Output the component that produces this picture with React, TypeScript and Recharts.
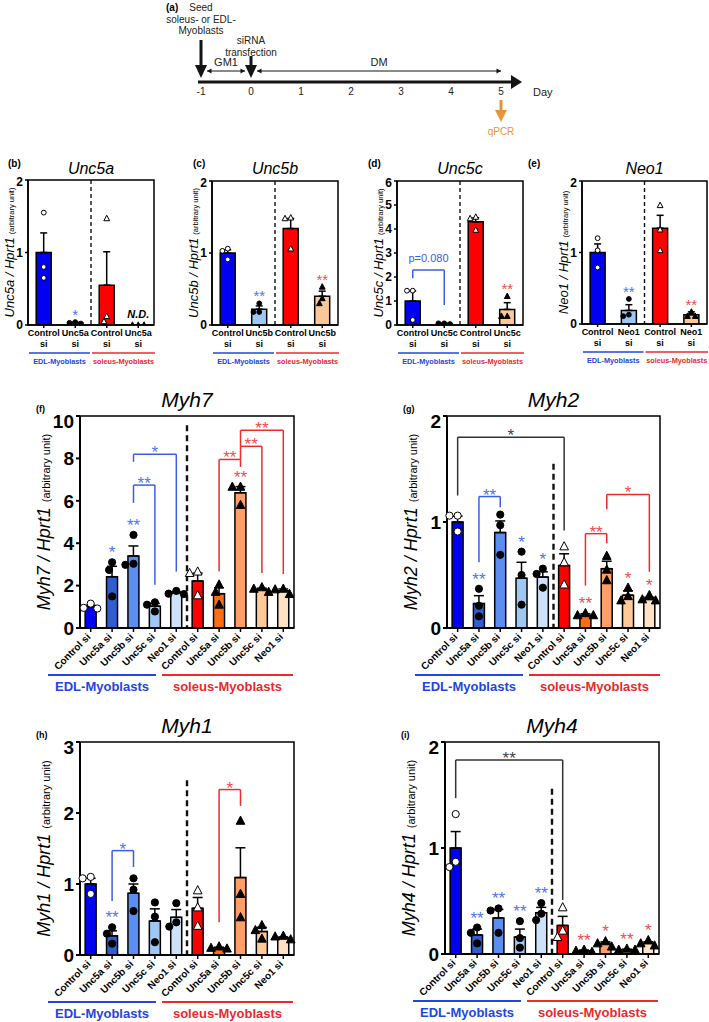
import React from 'react';
import {
  ComposedChart,
  Bar,
  Cell,
  ErrorBar,
  Scatter,
  XAxis,
  YAxis,
  ReferenceLine,
  ReferenceArea,
  ReferenceDot,
} from 'recharts';

const FONT = '"Liberation Sans", Arial, Helvetica, sans-serif';

// ---------- colours ----------
const GROUP_BLUE = '#2445e0';
const GROUP_RED = '#ea2a2f';
const LINE_BLUE = '#3b5ee6';
const LINE_RED = '#ef2b2b';
const LINE_BLACK = '#333333';
const STAR_BLUE = '#5274ee';
const STAR_RED = '#ef4d52';
const STAR_BLACK = '#444444';
const EDL_SHADES = ['#0000f2', '#2f5fcf', '#5b8ef0', '#9fc7f4', '#cde1f8'];
const SOL_SHADES = ['#ff0000', '#ff6c12', '#ff9f67', '#ffc998', '#ffe2c4'];
const SMALL_FILLS = ['#0000f2', '#9fc7f4', '#ff0000', '#fbc998'];
const QPCR_ORANGE = '#e8953a';

// ---------- (a) experimental timeline ----------
const DAYS = [-1, 0, 1, 2, 3, 4, 5];
const EVENTS = [
  { day: -1, lines: ['Seed', 'soleus- or EDL-', 'Myoblasts'], arrowTop: 42, textTop: 71 },
  { day: 0, lines: ['siRNA', 'transfection'], arrowTop: 26, textTop: 38 },
];
const PHASES = [
  { label: 'GM1', from: -0.88, to: -0.12 },
  { label: 'DM', from: 0.12, to: 5.0 },
];
const READOUT = { day: 5, label: 'qPCR' };

// ---------- (b)-(e) siRNA knockdown efficiency ----------
const CATS_UNC5A = ['EDL|Control si', 'EDL|Unc5a si', 'SOL|Control si', 'SOL|Unc5a si'];
const UNC5A_MEAN = [1.0, 0.03, 0.55, 0];
const UNC5A_SEM = [0.27, 0.01, 0.46, 0];
const UNC5A_PTS = [[1.55, 0.8, 0.65], [0.04, 0.03, 0.02], [1.47, 0.12, 0.05], [0, 0, 0]];
const UNC5A_SIG = ['', '*', '', 'N.D.'];

const CATS_UNC5B = ['EDL|Control si', 'EDL|Unc5b si', 'SOL|Control si', 'SOL|Unc5b si'];
const UNC5B_MEAN = [1.0, 0.22, 1.34, 0.4];
const UNC5B_SEM = [0.045, 0.045, 0.14, 0.07];
const UNC5B_PTS = [[1.06, 1.03, 0.91], [0.3, 0.18, 0.18], [1.49, 1.48, 1.06], [0.53, 0.37, 0.3]];
const UNC5B_SIG = ['', '**', '', '**'];

const CATS_UNC5C = ['EDL|Control si', 'EDL|Unc5c si', 'SOL|Control si', 'SOL|Unc5c si'];
const UNC5C_MEAN = [1.0, 0.06, 4.3, 0.65];
const UNC5C_SEM = [0.42, 0.015, 0.17, 0.28];
const UNC5C_PTS = [[1.43, 1.43, 0.21], [0.04, 0.07, 0.07], [4.5, 4.44, 3.96], [1.2, 0.37, 0.37]];
const UNC5C_SIG = ['', '', '', '**'];

const CATS_NEO1 = ['EDL|Control si', 'EDL|Neo1 si', 'SOL|Control si', 'SOL|Neo1 si'];
const NEO1_MEAN = [1.0, 0.19, 1.34, 0.13];
const NEO1_SEM = [0.12, 0.08, 0.18, 0.04];
const NEO1_PTS = [[1.2, 1.03, 0.79], [0.35, 0.11, 0.13], [1.66, 1.32, 1.03], [0.17, 0.11, 0.11]];
const NEO1_SIG = ['', '**', '', '**'];

// ---------- (f)-(i) myosin heavy chain isoforms ----------
const CATS_MYH = [
  'EDL|Control si', 'EDL|Unc5a si', 'EDL|Unc5b si', 'EDL|Unc5c si', 'EDL|Neo1 si',
  'SOL|Control si', 'SOL|Unc5a si', 'SOL|Unc5b si', 'SOL|Unc5c si', 'SOL|Neo1 si',
];

const MYH7_MEAN = [1.0, 2.42, 3.4, 1.03, 1.65, 2.22, 1.62, 6.38, 1.82, 1.76];
const MYH7_SEM = [0.07, 0.49, 0.47, 0.13, 0.05, 0.37, 0.28, 0.29, 0.06, 0.08];
const MYH7_PTS = [
  [1.15, 0.95, 0.92], [3.1, 2.74, 1.49], [4.39, 2.98, 3.03], [1.21, 1.1, 0.78], [1.75, 1.62, 1.6],
  [2.66, 2.59, 1.54], [2.05, 1.7, 1.1], [6.66, 6.66, 5.8], [1.92, 1.85, 1.7], [1.85, 1.82, 1.6],
];
const MYH7_SIG = ['', '*', '**', '', '', '', '', '**', '', ''];

const MYH2_MEAN = [1.0, 0.23, 0.9, 0.47, 0.48, 0.59, 0.12, 0.56, 0.31, 0.27];
const MYH2_SEM = [0.055, 0.075, 0.11, 0.15, 0.05, 0.11, 0.015, 0.07, 0.04, 0.02];
const MYH2_PTS = [
  [1.06, 1.06, 0.91], [0.37, 0.21, 0.11], [1.07, 0.97, 0.69], [0.72, 0.5, 0.22], [0.56, 0.51, 0.38],
  [0.77, 0.62, 0.41], [0.14, 0.12, 0.12], [0.68, 0.55, 0.45], [0.38, 0.3, 0.26], [0.31, 0.27, 0.26],
];
const MYH2_SIG = ['', '**', '', '*', '*', '', '**', '', '*', '*'];

const MYH1_MEAN = [1.0, 0.27, 0.87, 0.48, 0.53, 0.66, 0.1, 1.09, 0.33, 0.24];
const MYH1_SEM = [0.08, 0.07, 0.13, 0.17, 0.11, 0.15, 0.01, 0.42, 0.06, 0.015];
const MYH1_PTS = [
  [1.1, 1.08, 0.86], [0.39, 0.3, 0.16], [1.08, 0.92, 0.62], [0.74, 0.54, 0.18], [0.73, 0.46, 0.4],
  [0.91, 0.67, 0.41], [0.12, 0.1, 0.09], [1.89, 0.86, 0.53], [0.42, 0.35, 0.23], [0.27, 0.26, 0.22],
];
const MYH1_SIG = ['', '**', '', '', '', '', '', '', '', ''];

const MYH4_MEAN = [1.0, 0.18, 0.34, 0.16, 0.39, 0.27, 0.03, 0.1, 0.04, 0.1];
const MYH4_SEM = [0.155, 0.055, 0.08, 0.075, 0.05, 0.085, 0.008, 0.015, 0.006, 0.015];
const MYH4_PTS = [
  [1.32, 0.87, 0.82], [0.25, 0.2, 0.1], [0.43, 0.41, 0.2], [0.31, 0.15, 0.06], [0.48, 0.38, 0.32],
  [0.44, 0.22, 0.16], [0.04, 0.03, 0.02], [0.12, 0.1, 0.07], [0.05, 0.04, 0.04], [0.13, 0.1, 0.08],
];
const MYH4_SIG = ['', '**', '**', '**', '**', '', '**', '*', '**', '*'];

// comparison brackets: category indices, bracket level, leg ends (all in axis units)
type Tone = 'edl' | 'sol' | 'all';
interface Bracket { a: number; b: number; y: number; ya: number; yb: number; text: string; tone: Tone }

const UNC5C_BRACKETS: Bracket[] = [{ a: 0, b: 1, y: 2.29, ya: 1.95, yb: 0.83, text: 'p=0.080', tone: 'edl' }];
const MYH7_BRACKETS: Bracket[] = [
  { a: 2, b: 3, y: 6.74, ya: 5.9, yb: 2.04, text: '**', tone: 'edl' },
  { a: 2, b: 4, y: 8.2, ya: 7.84, yb: 2.66, text: '*', tone: 'edl' },
  { a: 6, b: 7, y: 7.95, ya: 2.66, yb: 7.6, text: '**', tone: 'sol' },
  { a: 7, b: 8, y: 8.57, ya: 7.95, yb: 2.59, text: '**', tone: 'sol' },
  { a: 7, b: 9, y: 9.33, ya: 8.57, yb: 2.55, text: '**', tone: 'sol' },
];
const MYH2_BRACKETS: Bracket[] = [
  { a: 0, b: 5, y: 1.8, ya: 1.25, yb: 0.92, text: '*', tone: 'all' },
  { a: 1, b: 2, y: 1.24, ya: 0.62, yb: 1.14, text: '**', tone: 'edl' },
  { a: 6, b: 7, y: 0.89, ya: 0.4, yb: 0.8, text: '**', tone: 'sol' },
  { a: 7, b: 9, y: 1.26, ya: 1.12, yb: 0.53, text: '*', tone: 'sol' },
];
const MYH1_BRACKETS: Bracket[] = [
  { a: 1, b: 2, y: 1.47, ya: 0.76, yb: 1.24, text: '*', tone: 'edl' },
  { a: 6, b: 7, y: 2.33, ya: 0.46, yb: 2.1, text: '*', tone: 'sol' },
];
const MYH4_BRACKETS: Bracket[] = [{ a: 0, b: 5, y: 1.83, ya: 1.47, yb: 0.51, text: '**', tone: 'all' }];

// ---------- layout ----------
interface Frame { left: number; top: number; width: number; plotLeft: number; plotTop: number; plotRight: number; plotBottom: number }

const FRAME_B: Frame = { left: 0, top: 174, width: 160, plotLeft: 28, plotTop: 180, plotRight: 154, plotBottom: 325 };
const FRAME_C: Frame = { left: 184, top: 175, width: 160, plotLeft: 212, plotTop: 181, plotRight: 338, plotBottom: 325 };
const FRAME_D: Frame = { left: 369, top: 175, width: 160, plotLeft: 397, plotTop: 181, plotRight: 523, plotBottom: 325 };
const FRAME_E: Frame = { left: 554, top: 175, width: 155, plotLeft: 582, plotTop: 181, plotRight: 707, plotBottom: 324 };
const FRAME_F: Frame = { left: 0, top: 410, width: 300, plotLeft: 80, plotTop: 416, plotRight: 294, plotBottom: 628 };
const FRAME_G: Frame = { left: 362, top: 410, width: 306, plotLeft: 447, plotTop: 416, plotRight: 660, plotBottom: 628 };
const FRAME_H: Frame = { left: 0, top: 736, width: 300, plotLeft: 80, plotTop: 742, plotRight: 294, plotBottom: 955 };
const FRAME_I: Frame = { left: 362, top: 736, width: 306, plotLeft: 445, plotTop: 742, plotRight: 659, plotBottom: 954 };

const lineTone = (t: Tone) => (t === 'edl' ? LINE_BLUE : t === 'sol' ? LINE_RED : LINE_BLACK);
const starTone = (t: Tone) => (t === 'edl' ? STAR_BLUE : t === 'sol' ? STAR_RED : STAR_BLACK);

// spread overlapping replicate markers sideways (simple beeswarm)
function swarm(vals: number[], ppu: number, d: number): number[] {
  const order = vals.map((_, i) => i).sort((i, j) => vals[j] - vals[i]);
  const placed: { x: number; y: number }[] = [];
  const out = vals.map(() => 0);
  for (const i of order) {
    const y = vals[i] * ppu;
    const cands = [0];
    for (const p of placed) {
      const dy = Math.abs(p.y - y);
      if (dy < d) {
        const dx = Math.sqrt(d * d - dy * dy);
        cands.push(p.x - dx, p.x + dx);
      }
    }
    cands.sort((a, b) => Math.abs(a) - Math.abs(b) || a - b);
    const ok = cands.find((c) => placed.every((p) => Math.hypot(p.x - c, p.y - y) >= d - 0.01));
    const x = ok === undefined ? 0 : ok;
    placed.push({ x, y });
    out[i] = x;
  }
  return out;
}

const catLabel = (v: unknown) => String(v).split('|')[1] || '';

const SlantTick = (p: any) => {
  const { x, y, payload } = p;
  const ax = x - 2;
  const ay = y + 1;
  return (
    <text
      x={ax}
      y={ay}
      dy="0.35em"
      transform={`rotate(-45 ${ax} ${ay})`}
      textAnchor="end"
      fontSize={10}
      fontWeight={700}
      fontFamily={FONT}
      fill="#000"
    >
      {catLabel(payload.value)}
    </text>
  );
};

const StackTick = (p: any) => {
  const { x, y, payload } = p;
  const [a, b] = catLabel(payload.value).split(' ');
  return (
    <text x={x} y={y} textAnchor="middle" fontSize={9} fontWeight={700} fontFamily={FONT} fill="#000">
      <tspan x={x} dy="0.71em">{a}</tspan>
      <tspan x={x} dy="1.15em">{b}</tspan>
    </text>
  );
};

const YTitle = (p: any) => {
  const { viewBox, gene, big } = p;
  const vb = viewBox || { x: 0, y: 0, width: 0, height: 0 };
  const cx = vb.x + vb.width - (big ? 30 : 14);
  const cy = vb.y + vb.height / 2;
  return (
    <text transform={`translate(${cx},${cy}) rotate(-90)`} textAnchor="middle" fontFamily={FONT} fill="#000">
      <tspan fontStyle="italic" fontSize={big ? 18 : 13}>{`${gene} / Hprt1`}</tspan>
      <tspan fontSize={big ? 11 : 7.5} dx={big ? 5 : 3}>(arbitrary unit)</tspan>
    </text>
  );
};

const BracketText = (p: any) => {
  const { viewBox, text, tone, big } = p;
  const vb = viewBox || { x: 0, y: 0, width: 0, height: 0 };
  const x = vb.x + vb.width / 2;
  const isP = text.startsWith('p');
  return (
    <text
      x={x}
      y={vb.y + (isP ? -8 : 4)}
      textAnchor="middle"
      fontSize={isP ? 11 : big ? 17 : 15}
      fill={isP ? LINE_BLUE : starTone(tone)}
      fontFamily={FONT}
    >
      {text}
    </text>
  );
};

const makeDot = (k: number, r: number) => (p: any) => {
  const { cx, cy, payload } = p;
  if (cx == null || cy == null || !payload) return <g />;
  const x = cx + payload[`o${k}`];
  const fill = payload.ctrl ? '#ffffff' : '#000000';
  if (payload.grp === 'EDL') {
    return <circle cx={x} cy={cy} r={r} fill={fill} stroke="#000" strokeWidth={1} />;
  }
  const h = r * 1.2;
  return (
    <polygon
      points={`${x},${cy - h * 1.1} ${x - h},${cy + h * 0.8} ${x + h},${cy + h * 0.8}`}
      fill={fill}
      stroke="#000"
      strokeWidth={1}
    />
  );
};

const makeSig = (big: boolean) => (p: any) => {
  const { cx, cy, payload } = p;
  if (cx == null || cy == null || !payload || !payload.sig) return <g />;
  if (payload.sig === 'N.D.') {
    return (
      <text x={cx} y={cy - 7} textAnchor="middle" fontSize={11} fontWeight={700} fontStyle="italic" fontFamily={FONT} fill="#000">
        N.D.
      </text>
    );
  }
  return (
    <text
      x={cx}
      y={cy + (big ? -4 : -2)}
      textAnchor="middle"
      fontSize={big ? 17 : 15}
      fill={payload.grp === 'EDL' ? STAR_BLUE : STAR_RED}
      fontFamily={FONT}
    >
      {payload.sig}
    </text>
  );
};

interface PanelProps {
  frame: Frame;
  cats: string[];
  means: number[];
  sems: number[];
  pts: number[][];
  sig: string[];
  brackets: Bracket[];
  fills: string[];
  yMax: number;
  yTicks: number[];
  divTop: number;
  gene: string;
  big: boolean;
}

function BarPanel({ frame, cats, means, sems, pts, sig, brackets, fills, yMax, yTicks, divTop, gene, big }: PanelProps) {
  const xAxisH = big ? 47 : 26;
  const height = frame.plotBottom + xAxisH - frame.top;
  const r = big ? 3.6 : 2.4;
  const ppu = (frame.plotBottom - frame.plotTop) / yMax;
  const rows = cats.map((key, i) => {
    const offs = swarm(pts[i], ppu, 2 * r + 1);
    return {
      key,
      mean: means[i],
      err: [0, sems[i]],
      p0: pts[i][0],
      p1: pts[i][1],
      p2: pts[i][2],
      o0: offs[0],
      o1: offs[1],
      o2: offs[2],
      top: Math.max(means[i] + sems[i], ...pts[i]),
      sig: sig[i],
      grp: key.split('|')[0],
      ctrl: key.includes('Control'),
    };
  });
  const firstSol = cats.findIndex((c) => c.startsWith('SOL'));
  const axisW = big ? 2 : 1.5;
  const divider = (s: any) => (
    <line
      x1={s.x}
      x2={s.x}
      y1={s.y}
      y2={s.y + s.height}
      stroke="#111"
      strokeWidth={big ? 2.4 : 1.4}
      strokeDasharray={big ? '6 4' : '4 3'}
    />
  );
  return (
    <div style={{ position: 'absolute', left: frame.left, top: frame.top }}>
      <ComposedChart
        width={frame.width}
        height={height}
        data={rows}
        margin={{ top: frame.plotTop - frame.top, right: frame.left + frame.width - frame.plotRight, bottom: 0, left: 0 }}
        barCategoryGap={big ? '24%' : '26%'}
      >
        <XAxis
          dataKey="key"
          type="category"
          interval={0}
          height={xAxisH}
          tick={big ? <SlantTick /> : <StackTick />}
          tickSize={big ? 4 : 3}
          tickMargin={2}
          axisLine={{ stroke: '#000', strokeWidth: axisW }}
          tickLine={{ stroke: '#000', strokeWidth: 1.5 }}
        />
        <YAxis
          type="number"
          domain={[0, yMax]}
          ticks={yTicks}
          allowDataOverflow
          width={frame.plotLeft - frame.left}
          tick={{ fontSize: big ? 19 : 12, fontWeight: 700, fill: '#000', fontFamily: FONT }}
          tickSize={big ? 4 : 3}
          tickMargin={2}
          axisLine={{ stroke: '#000', strokeWidth: axisW }}
          tickLine={{ stroke: '#000', strokeWidth: axisW }}
          label={<YTitle gene={gene} big={big} />}
        />
        <ReferenceArea y1={0} y2={yMax} fill="none" stroke="#000" strokeWidth={1.5} ifOverflow="visible" />
        <ReferenceArea
          x1={cats[firstSol]}
          x2={cats[firstSol]}
          y1={0}
          y2={divTop}
          ifOverflow="visible"
          shape={divider}
        />
        <Bar dataKey="mean" stroke="#000" strokeWidth={1.5} isAnimationActive={false}>
          {rows.map((row, i) => (
            <Cell key={row.key} fill={fills[i]} />
          ))}
          <ErrorBar dataKey="err" width={big ? 5 : 3.5} strokeWidth={1.5} stroke="#000" direction="y" />
        </Bar>
        {brackets.map((bk, j) => {
          const A = cats[bk.a];
          const B = cats[bk.b];
          const col = lineTone(bk.tone);
          return (
            <React.Fragment key={`bk${j}`}>
              <ReferenceLine
                segment={[{ x: A, y: bk.y }, { x: B, y: bk.y }]}
                stroke={col}
                strokeWidth={1.5}
                ifOverflow="visible"
                label={<BracketText text={bk.text} tone={bk.tone} big={big} />}
              />
              <ReferenceLine segment={[{ x: A, y: bk.ya }, { x: A, y: bk.y }]} stroke={col} strokeWidth={1.5} ifOverflow="visible" />
              <ReferenceLine segment={[{ x: B, y: bk.yb }, { x: B, y: bk.y }]} stroke={col} strokeWidth={1.5} ifOverflow="visible" />
            </React.Fragment>
          );
        })}
        <Scatter dataKey="p0" shape={makeDot(0, r)} isAnimationActive={false} />
        <Scatter dataKey="p1" shape={makeDot(1, r)} isAnimationActive={false} />
        <Scatter dataKey="p2" shape={makeDot(2, r)} isAnimationActive={false} />
        <Scatter dataKey="top" shape={makeSig(big)} isAnimationActive={false} />
      </ComposedChart>
    </div>
  );
}

// ---------- timeline ----------
const downHead = (color: string) => (s: any) => (
  <polygon points={`${s.x},${s.y} ${s.x + s.width},${s.y} ${s.x + s.width / 2},${s.y + s.height}`} fill={color} />
);
const rightHead = (color: string) => (s: any) => (
  <polygon points={`${s.x},${s.y} ${s.x + s.width},${s.y + s.height / 2} ${s.x},${s.y + s.height}`} fill={color} />
);
const leftHead = (color: string) => (s: any) => (
  <polygon points={`${s.x + s.width},${s.y} ${s.x},${s.y + s.height / 2} ${s.x + s.width},${s.y + s.height}`} fill={color} />
);
const textAt = (lines: string[], size: number, color: string, lh: number) => (s: any) => (
  <text x={s.cx} y={s.cy} textAnchor="middle" fontSize={size} fill={color} fontFamily={FONT}>
    {lines.map((l, i) => (
      <tspan key={l} x={s.cx} dy={i === 0 ? 0 : lh}>
        {l}
      </tspan>
    ))}
  </text>
);

function Timeline() {
  const data = DAYS.map((d) => ({ day: d }));
  const ink = '#141414';
  return (
    <div style={{ position: 'absolute', left: 150, top: 0 }}>
      <ComposedChart width={420} height={142} data={data} margin={{ top: 0, right: 48, bottom: 40, left: 48 }}>
        <XAxis
          dataKey="day"
          type="number"
          domain={[-1.06, 5.42]}
          allowDataOverflow
          ticks={DAYS}
          axisLine={false}
          tickLine={false}
          tickSize={6}
          tickMargin={0}
          height={20}
          tick={{ fontSize: 10, fill: '#222', fontFamily: FONT }}
          label={{ value: 'Day', position: 'right', offset: 11, fontSize: 11, fill: '#222', fontFamily: FONT }}
        />
        <YAxis hide type="number" domain={[0, 82]} allowDataOverflow />
        <ReferenceLine segment={[{ x: -1.06, y: 0 }, { x: 5.22, y: 0 }]} stroke={ink} strokeWidth={3} ifOverflow="visible" />
        <ReferenceArea x1={5.2} x2={5.42} y1={-7} y2={7} ifOverflow="visible" shape={rightHead(ink)} />
        {EVENTS.map((ev) => (
          <React.Fragment key={ev.day}>
            <ReferenceLine segment={[{ x: ev.day, y: ev.arrowTop }, { x: ev.day, y: 15 }]} stroke={ink} strokeWidth={3} ifOverflow="visible" />
            <ReferenceArea x1={ev.day - 0.12} x2={ev.day + 0.12} y1={4} y2={17} ifOverflow="visible" shape={downHead(ink)} />
            <ReferenceDot x={ev.day} y={ev.textTop} r={0} ifOverflow="visible" shape={textAt(ev.lines, 10, '#222', 11.5)} />
          </React.Fragment>
        ))}
        {PHASES.map((ph) => (
          <React.Fragment key={ph.label}>
            <ReferenceLine segment={[{ x: ph.from, y: 11 }, { x: ph.to, y: 11 }]} stroke={ink} strokeWidth={1} ifOverflow="visible" />
            <ReferenceArea x1={ph.from} x2={ph.from + 0.09} y1={8.5} y2={13.5} ifOverflow="visible" shape={leftHead(ink)} />
            <ReferenceArea x1={ph.to - 0.09} x2={ph.to} y1={8.5} y2={13.5} ifOverflow="visible" shape={rightHead(ink)} />
            <ReferenceDot x={(ph.from + ph.to) / 2} y={16} r={0} ifOverflow="visible" shape={textAt([ph.label], 11, '#222', 0)} />
          </React.Fragment>
        ))}
        <ReferenceLine
          segment={[{ x: READOUT.day, y: -18 }, { x: READOUT.day, y: -30 }]}
          stroke={QPCR_ORANGE}
          strokeWidth={3}
          ifOverflow="visible"
        />
        <ReferenceArea x1={READOUT.day - 0.12} x2={READOUT.day + 0.12} y1={-40} y2={-28} ifOverflow="visible" shape={downHead(QPCR_ORANGE)} />
        <ReferenceDot x={READOUT.day} y={-53} r={0} ifOverflow="visible" shape={textAt([READOUT.label], 10, QPCR_ORANGE, 0)} />
      </ComposedChart>
    </div>
  );
}

// ---------- titles, panel letters and group labels ----------
function SmallDecor({ frame, letter, letterX, gene }: { frame: Frame; letter: string; letterX: number; gene: string }) {
  const mid = (frame.plotLeft + frame.plotRight) / 2;
  const ly = frame.plotBottom + 28;
  const ty = frame.plotBottom + 38.5;
  return (
    <g fontFamily={FONT}>
      <text x={letterX} y={167} fontSize={10} fontWeight={700} fill="#000">{letter}</text>
      <text x={mid} y={174} fontSize={16} fontStyle="italic" textAnchor="middle" fill="#000">{gene}</text>
      <line x1={frame.plotLeft + 1} x2={mid - 1} y1={ly} y2={ly} stroke={GROUP_BLUE} strokeWidth={1.5} />
      <line x1={mid + 1} x2={frame.plotRight + 1} y1={ly} y2={ly} stroke={GROUP_RED} strokeWidth={1.5} />
      <text x={(frame.plotLeft + mid) / 2} y={ty} fontSize={7.3} fontWeight={700} textAnchor="middle" fill={GROUP_BLUE}>EDL-Myoblasts</text>
      <text x={(mid + frame.plotRight) / 2 + 1} y={ty} fontSize={7.3} fontWeight={700} textAnchor="middle" fill={GROUP_RED}>soleus-Myoblasts</text>
    </g>
  );
}

function BigDecor({ frame, letter, gene }: { frame: Frame; letter: string; gene: string }) {
  const mid = (frame.plotLeft + frame.plotRight) / 2;
  const ly = frame.plotBottom + 47;
  const ty = frame.plotBottom + 62.5;
  const b0 = frame.plotLeft - 32;
  const b1 = frame.plotLeft + 76;
  const r0 = frame.plotLeft + 82;
  const r1 = frame.plotLeft + 213;
  return (
    <g fontFamily={FONT}>
      <text x={frame.plotLeft - 44} y={frame.plotTop - 4} fontSize={9} fontWeight={700} fill="#000">{letter}</text>
      <text x={mid} y={frame.plotTop - 9} fontSize={21} fontStyle="italic" textAnchor="middle" fill="#000">{gene}</text>
      <line x1={b0} x2={b1} y1={ly} y2={ly} stroke={GROUP_BLUE} strokeWidth={2} />
      <line x1={r0} x2={r1} y1={ly} y2={ly} stroke={GROUP_RED} strokeWidth={2} />
      <text x={(b0 + b1) / 2} y={ty} fontSize={13} fontWeight={700} textAnchor="middle" fill={GROUP_BLUE}>EDL-Myoblasts</text>
      <text x={(r0 + r1) / 2} y={ty} fontSize={13} fontWeight={700} textAnchor="middle" fill={GROUP_RED}>soleus-Myoblasts</text>
    </g>
  );
}

export default function App() {
  const bigFills = [...EDL_SHADES, ...SOL_SHADES];
  return (
    <div
      style={{
        position: 'absolute',
        left: 0,
        top: 0,
        width: 709,
        height: 1022,
        background: '#fff',
        overflow: 'hidden',
        fontFamily: FONT,
      }}
    >
      <Timeline />
      <BarPanel frame={FRAME_B} cats={CATS_UNC5A} means={UNC5A_MEAN} sems={UNC5A_SEM} pts={UNC5A_PTS} sig={UNC5A_SIG}
        brackets={[]} fills={SMALL_FILLS} yMax={2} yTicks={[0, 1, 2]} divTop={2} gene="Unc5a" big={false} />
      <BarPanel frame={FRAME_C} cats={CATS_UNC5B} means={UNC5B_MEAN} sems={UNC5B_SEM} pts={UNC5B_PTS} sig={UNC5B_SIG}
        brackets={[]} fills={SMALL_FILLS} yMax={2} yTicks={[0, 1, 2]} divTop={2} gene="Unc5b" big={false} />
      <BarPanel frame={FRAME_D} cats={CATS_UNC5C} means={UNC5C_MEAN} sems={UNC5C_SEM} pts={UNC5C_PTS} sig={UNC5C_SIG}
        brackets={UNC5C_BRACKETS} fills={SMALL_FILLS} yMax={6} yTicks={[0, 1, 2, 3, 4, 5, 6]} divTop={6} gene="Unc5c" big={false} />
      <BarPanel frame={FRAME_E} cats={CATS_NEO1} means={NEO1_MEAN} sems={NEO1_SEM} pts={NEO1_PTS} sig={NEO1_SIG}
        brackets={[]} fills={SMALL_FILLS} yMax={2} yTicks={[0, 1, 2]} divTop={2} gene="Neo1" big={false} />
      <BarPanel frame={FRAME_F} cats={CATS_MYH} means={MYH7_MEAN} sems={MYH7_SEM} pts={MYH7_PTS} sig={MYH7_SIG}
        brackets={MYH7_BRACKETS} fills={bigFills} yMax={10} yTicks={[0, 2, 4, 6, 8, 10]} divTop={9.56} gene="Myh7" big />
      <BarPanel frame={FRAME_G} cats={CATS_MYH} means={MYH2_MEAN} sems={MYH2_SEM} pts={MYH2_PTS} sig={MYH2_SIG}
        brackets={MYH2_BRACKETS} fills={bigFills} yMax={2} yTicks={[0, 1, 2]} divTop={1.55} gene="Myh2" big />
      <BarPanel frame={FRAME_H} cats={CATS_MYH} means={MYH1_MEAN} sems={MYH1_SEM} pts={MYH1_PTS} sig={MYH1_SIG}
        brackets={MYH1_BRACKETS} fills={bigFills} yMax={3} yTicks={[0, 1, 2, 3]} divTop={2.46} gene="Myh1" big />
      <BarPanel frame={FRAME_I} cats={CATS_MYH} means={MYH4_MEAN} sems={MYH4_SEM} pts={MYH4_PTS} sig={MYH4_SIG}
        brackets={MYH4_BRACKETS} fills={bigFills} yMax={2} yTicks={[0, 1, 2]} divTop={1.56} gene="Myh4" big />
      <svg width={709} height={1022} style={{ position: 'absolute', left: 0, top: 0, pointerEvents: 'none' }}>
        <text x={166} y={11} fontSize={10} fontWeight={700} fontFamily={FONT} fill="#000">(a)</text>
        <SmallDecor frame={FRAME_B} letter="(b)" letterX={8} gene="Unc5a" />
        <SmallDecor frame={FRAME_C} letter="(c)" letterX={193} gene="Unc5b" />
        <SmallDecor frame={FRAME_D} letter="(d)" letterX={368} gene="Unc5c" />
        <SmallDecor frame={FRAME_E} letter="(e)" letterX={528} gene="Neo1" />
        <BigDecor frame={FRAME_F} letter="(f)" gene="Myh7" />
        <BigDecor frame={FRAME_G} letter="(g)" gene="Myh2" />
        <BigDecor frame={FRAME_H} letter="(h)" gene="Myh1" />
        <BigDecor frame={FRAME_I} letter="(i)" gene="Myh4" />
      </svg>
    </div>
  );
}
